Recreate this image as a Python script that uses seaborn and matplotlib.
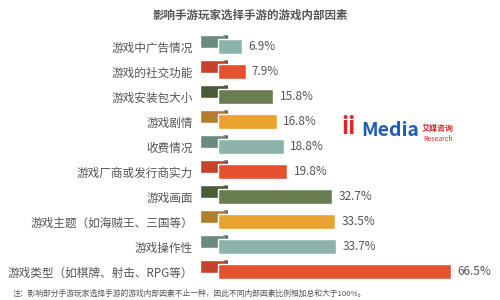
import matplotlib
matplotlib.use("Agg")
import matplotlib.pyplot as plt
import numpy as np
import pandas as pd
import seaborn as sns

sns.set_theme(style="white")
plt.rcParams['font.family'] = ['Noto Sans CJK SC', 'DejaVu Sans']

title = "影响手游玩家选择手游的游戏内部因素"
factors = [
    "游戏中广告情况", "游戏的社交功能", "游戏安装包大小", "游戏剧情", "收费情况",
    "游戏厂商或发行商实力", "游戏画面", "游戏主题（如海贼王、三国等）", "游戏操作性",
    "游戏类型（如棋牌、射击、RPG等）",
]
shares = [6.9, 7.9, 15.8, 16.8, 18.8, 19.8, 32.7, 33.5, 33.7, 66.5]
note = "注：影响部分手游玩家选择手游的游戏内部因素不止一种，因此不同内部因素比例相加总和大于100%。"

light = ["#8db4ab", "#e4512f", "#6a7d50", "#e9a22f"]
dark = ["#6b8b82", "#c4432c", "#4b5b38", "#b07f2c"]
main_colors = [light[i % 4] for i in range(len(factors))]
flag_colors = [dark[i % 4] for i in range(len(factors))]

df = pd.DataFrame({"factor": factors, "share": shares})

fig = plt.figure(figsize=(5, 3), dpi=100)
fig.patch.set_facecolor("white")
ax = fig.add_axes([0.4, 0.05, 0.56, 0.85])

pos = np.arange(len(factors))
# dark flag behind each bar
ax.barh(pos - 0.2, 8.0, left=-5.14, height=0.52, color=flag_colors, zorder=1)
for i, c in enumerate(flag_colors):
    ax.fill([1.4, 2.86, 2.86], [i - 0.46, i - 0.46, i - 0.3], color="#2e2e2e", alpha=0.5, zorder=1.5, lw=0)

sns.barplot(data=df, y="factor", x="share", hue="factor", palette=main_colors,
            legend=False, width=0.6, ax=ax, zorder=2, saturation=1)

for i, v in enumerate(shares):
    ax.text(v + 1.8, i, f"{v}%", va="center", ha="left", fontsize=8.5, color="#555555")

ax.set_xlim(-5.14, 74.86)
ax.set_ylim(9.54, -0.66)
ax.set_xlabel("")
ax.set_ylabel("")
ax.set_xticks([])
ax.tick_params(axis="y", length=0, pad=5, labelsize=8.4, labelcolor="#555555")
for s in ax.spines.values():
    s.set_visible(False)

fig.text(0.5, 0.95, title, ha="center", va="center", fontsize=8.3, color="#555555", fontweight="bold")
fig.text(0.026, 0.02, note, ha="left", va="center", fontsize=5.6, color="#555555")

# logo
fig.text(0.682, 0.575, "ii", ha="left", va="center", fontsize=17, color="#e0262b", fontweight="bold")
fig.text(0.722, 0.565, "Media", ha="left", va="center", fontsize=14, color="#1e5fb4", fontweight="bold")
fig.text(0.844, 0.572, "艾媒咨询", ha="left", va="center", fontsize=5.8, color="#e0262b", fontweight="bold")
fig.text(0.846, 0.538, "Research", ha="left", va="center", fontsize=5, color="#e0262b", style="italic")

fig.savefig("out.png", dpi=100, facecolor="white")
